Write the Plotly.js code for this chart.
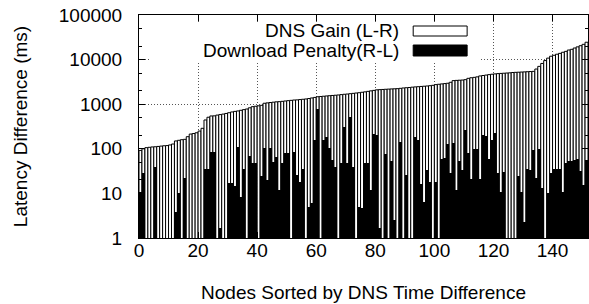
<!DOCTYPE html>
<html>
<head>
<meta charset="utf-8">
<script src="https://cdn.plot.ly/plotly-3.0.1.min.js"></script>
<style>html,body{margin:0;padding:0;background:#fff;}#chart{width:589px;height:304px;}</style>
</head>
<body>
<div id="chart"></div>
<script>
// DNS Gain (L-R), one value per node, sorted ascending (ms)
const dnsGain = [
  92, 100, 106, 108, 110, 111, 113, 115, 117, 118,
  122, 128, 150, 155, 160, 163, 187, 214, 220, 229,
  250, 288, 443, 510, 545, 548, 570, 585, 600, 620,
  644, 670, 690, 706, 730, 755, 780, 830, 880, 900,
  920, 945, 1050, 1070, 1090, 1110, 1130, 1140, 1160, 1180,
  1200, 1220, 1240, 1250, 1270, 1290, 1310, 1340, 1380, 1420,
  1470, 1490, 1510, 1530, 1550, 1570, 1590, 1610, 1640, 1670,
  1690, 1720, 1750, 1780, 1810, 1850, 1890, 1940, 1990, 2040,
  2100, 2120, 2140, 2160, 2180, 2200, 2215, 2230, 2270, 2310,
  2340, 2370, 2410, 2440, 2470, 2500, 2530, 2560, 2600, 2650,
  2750, 2800, 2850, 2900, 2950, 3100, 3380, 3420, 3450, 3480,
  3550, 3800, 3920, 4000, 4100, 4300, 4400, 4500, 4600, 4700,
  4780, 4850, 4900, 4950, 5000, 5050, 5140, 5180, 5220, 5260,
  5300, 5350, 5400, 5450, 6150, 7050, 8200, 9500, 10800, 11900,
  12500, 13200, 13800, 14600, 15300, 16400, 17000, 18200, 19300, 20500,
  22000, 24500
];
// Download Penalty (R-L) for the same nodes (ms); 0 = no penalty
const downloadPenalty = [
  11, 29, 0, 0, 0, 40, 0, 0, 0, 0,
  0, 0, 3.9, 10, 0, 22, 0, 0, 0, 0,
  0, 0, 36, 35, 86, 86, 0, 1.7, 0, 0,
  17, 17, 15, 111, 8.5, 36, 0, 69, 49, 49,
  0, 24, 102, 20, 102, 51, 66, 12, 47, 80,
  80, 0, 86, 26, 18, 36, 0, 5, 6, 158,
  800, 0, 158, 187, 103, 56, 40, 0, 47, 313,
  47, 525, 40, 0, 5, 4.6, 47, 47, 12, 214,
  203, 1.65, 0, 76, 0, 54, 2.5, 0, 144, 0,
  26, 0, 0, 187, 158, 16, 6.5, 33, 18, 0,
  18, 0, 58, 61, 130, 28, 133, 12, 52, 33,
  265, 79, 21, 100, 97, 21, 200, 194, 58, 158,
  222, 28, 11, 30, 0, 0, 0, 0, 24.5, 11,
  2.3, 35, 33, 94, 22, 98, 13, 0, 10, 29,
  35, 36, 36, 11, 47, 52, 52, 55, 58, 32,
  15.5, 56
];
const nodes = dnsGain.map((_, i) => i);
const xTicks = [0, 20, 40, 60, 80, 100, 120, 140];
const yTicks = [1, 10, 100, 1000, 10000, 100000];
const yTickText = ['1', '10', '100', '1000', '10000', '100000'];
const seriesNames = ['DNS Gain (L-R)', 'Download Penalty(R-L)'];

const FONT = 'Liberation Sans, Arial, Helvetica, sans-serif';
const L = 138.5, R = 588, T = 15, B = 238;
const px = v => (v - L) / (R - L);
const py = v => (B - v) / (B - T);

const traces = [
  {type: 'bar', x: nodes, y: dnsGain, width: 1, offset: 0, name: seriesNames[0],
   marker: {color: '#ffffff', line: {color: '#000000', width: 1}}},
  {type: 'bar', x: nodes, y: downloadPenalty, width: 1, offset: 0, name: seriesNames[1],
   marker: {color: '#000000', line: {color: '#000000', width: 0}}}
];

const layout = {
  width: 589, height: 304,
  margin: {l: L, r: 589 - R, t: T, b: 304 - B, pad: 0},
  paper_bgcolor: '#ffffff', plot_bgcolor: '#ffffff',
  barmode: 'overlay', bargap: 0, showlegend: false,
  font: {family: FONT, size: 19, color: '#000'},
  xaxis: {
    range: [0, 152], tickvals: xTicks, ticktext: xTicks.map(String),
    ticks: 'inside', ticklen: 6, tickcolor: '#000', tickwidth: 1,
    showline: true, linecolor: '#000', linewidth: 1, mirror: 'ticks',
    showgrid: true, gridcolor: '#555', griddash: '1px,2px', gridwidth: 1,
    zeroline: false, tickfont: {family: FONT, size: 19, color: '#000'},
    ticklabelstandoff: -5,
    title: {text: 'Nodes Sorted by DNS Time Difference', font: {family: FONT, size: 19, color: '#000'}, standoff: 25},
    automargin: false
  },
  yaxis: {
    type: 'log', range: [0, 5], tickvals: yTicks, ticktext: yTickText,
    ticks: 'inside', ticklen: 6, tickcolor: '#000', tickwidth: 1,
    minor: {ticks: 'inside', ticklen: 3, tickcolor: '#000', showgrid: false},
    showline: true, linecolor: '#000', linewidth: 1, mirror: 'ticks',
    showgrid: true, gridcolor: '#555', griddash: '1px,2px', gridwidth: 1,
    zeroline: false, tickfont: {family: FONT, size: 19, color: '#000'},
    ticklabelstandoff: 12,
    title: {text: 'Latency Difference (ms)', font: {family: FONT, size: 19, color: '#000'}, standoff: 26},
    automargin: false
  },
  shapes: [
    {type: 'rect', xref: 'paper', yref: 'paper', x0: px(150), x1: px(480), y0: py(62), y1: py(22),
     fillcolor: '#ffffff', line: {width: 0}, layer: 'above'},
    {type: 'rect', xref: 'paper', yref: 'paper', x0: px(413), x1: px(467), y0: py(36), y1: py(26),
     fillcolor: '#ffffff', line: {color: '#000', width: 1}, layer: 'above'},
    {type: 'rect', xref: 'paper', yref: 'paper', x0: px(413), x1: px(467), y0: py(56), y1: py(45),
     fillcolor: '#000000', line: {color: '#000', width: 1}, layer: 'above'}
  ],
  annotations: [
    {xref: 'paper', yref: 'paper', x: px(401), y: py(31), xanchor: 'right', yanchor: 'middle',
     text: seriesNames[0], showarrow: false, font: {family: FONT, size: 19, color: '#000'}},
    {xref: 'paper', yref: 'paper', x: px(401), y: py(50.5), xanchor: 'right', yanchor: 'middle',
     text: seriesNames[1], showarrow: false, font: {family: FONT, size: 19, color: '#000'}}
  ]
};

Plotly.newPlot('chart', traces, layout, {staticPlot: true, displayModeBar: false});
</script>
</body>
</html>
